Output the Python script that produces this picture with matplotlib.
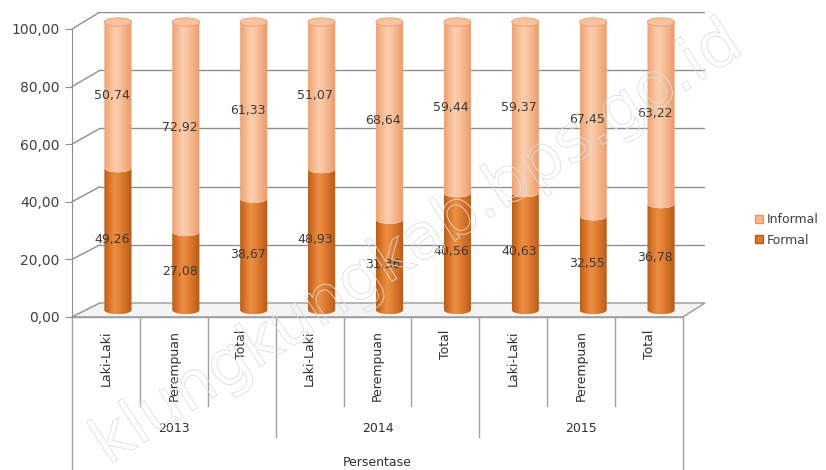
import numpy as np
import matplotlib.pyplot as plt
from matplotlib.patches import Polygon, Ellipse, Patch, ConnectionPatch
from matplotlib.colors import LinearSegmentedColormap
import matplotlib.patheffects as pe

# data
years = ['2013', '2014', '2015']
groups = ['Laki-Laki', 'Perempuan', 'Total']
formal = [49.26, 27.08, 38.67, 48.93, 31.36, 40.56, 40.63, 32.55, 36.78]
informal = [50.74, 72.92, 61.33, 51.07, 68.64, 59.44, 59.37, 67.45, 63.22]
yticks = [0, 20, 40, 60, 80, 100]
xlabel = 'Persentase'

W, H = 826, 470
fig = plt.figure(figsize=(W / 100, H / 100), dpi=100)
plt.rcParams['font.family'] = 'DejaVu Sans'
n = len(formal)


def px_axes(xl, xr, row0, row100, ylim=(0, 100)):
    # axes placed by pixel: x range, row of value 0 and of value 100
    s = (row0 - row100) / 100.0
    rb = row0 - ylim[0] * s
    rt = row0 - ylim[1] * s
    a = fig.add_axes([xl / W, (H - rb) / H, (xr - xl) / W, (rb - rt) / H])
    a.patch.set_visible(False)
    return a


ax_back = px_axes(100, 705, 303, 12)
ax_front = px_axes(72, 683, 317, 29)
ax_bar = px_axes(84, 695, 310, 22, ylim=(-5, 105))

for a in (ax_back, ax_front, ax_bar):
    a.set_xlim(-0.5, n - 0.5)

# back wall gridlines
ax_back.axis('off')
ax_back.set_ylim(0, 100)
for v in yticks[1:]:
    ax_back.axhline(v, color='#8f8f8f', lw=1)

# floor
to_fig = fig.transFigure.inverted()
pts = [ax_front.transData.transform((-0.5, 0)),
       ax_back.transData.transform((-0.5, 0)),
       ax_back.transData.transform((n - 0.5, 0)),
       ax_front.transData.transform((n - 0.5, 0))]
floor = Polygon(to_fig.transform(pts), closed=True, transform=fig.transFigure,
                facecolor='#f3f3f3', edgecolor='#9a9a9a', lw=1, zorder=-1)
fig.patches.append(floor)

# left wall diagonals
for v in yticks:
    con = ConnectionPatch(xyA=(-0.5, v), coordsA=ax_front.transData,
                          xyB=(-0.5, v), coordsB=ax_back.transData,
                          color='#8f8f8f', lw=1, zorder=-1)
    fig.add_artist(con)

# front axis
ax_front.set_ylim(0, 100)
for s in ['top', 'right', 'bottom']:
    ax_front.spines[s].set_visible(False)
ax_front.spines['left'].set_color('#8f8f8f')
ax_front.set_yticks(yticks)
ax_front.set_yticklabels([f'{v:.2f}'.replace('.', ',') for v in yticks],
                         fontsize=10, color='#404040')
ax_front.tick_params(axis='y', length=5, color='#8f8f8f', pad=4)
ax_front.set_xticks([])

# category axis below
tr = ax_front.get_xaxis_transform()
fr = lambda row: -(row - 317) / 288.0
ax_front.plot([-0.5, n - 0.5], [0, 0], transform=tr, color='#9a9a9a', lw=1, clip_on=False)
for i in range(n):
    ax_front.text(i, fr(330), groups[i % 3], transform=tr, rotation=90,
                  ha='center', va='top', fontsize=9, color='#303030')
for i in range(1, n):
    bottom = fr(437) if i % 3 == 0 else fr(406)
    ax_front.plot([i - 0.5, i - 0.5], [0, bottom], transform=tr,
                  color='#a0a0a0', lw=1, clip_on=False)
for b in (-0.5, n - 0.5):
    ax_front.plot([b, b], [0, fr(472)], transform=tr, color='#a0a0a0', lw=1, clip_on=False)
for k, yr in enumerate(years):
    ax_front.text(3 * k + 1, fr(428), yr, transform=tr, ha='center', va='center',
                  fontsize=9, color='#303030')
ax_front.text((n - 1) / 2, fr(462), xlabel, transform=tr, ha='center', va='center',
              fontsize=9, color='#303030')

# cylinders
ax_bar.axis('off')
cm_formal = LinearSegmentedColormap.from_list(
    'f', ['#b85c18', '#dc772a', '#ec9044', '#e27d30', '#cc6c24', '#b45a1a'])
cm_inf = LinearSegmentedColormap.from_list(
    'i', ['#eca274', '#f6b88e', '#fbcfb0', '#f8c09a', '#f1ac80', '#e69c6c'])
w = 0.4
ry = 1.45


def segment(x, y0, y1, cmap, top=False):
    rx = w / 2
    t = np.linspace(np.pi, 2 * np.pi, 40)
    lower = np.c_[x + rx * np.cos(t), y0 + ry * np.sin(t)]
    if top:
        t2 = np.linspace(0, np.pi, 40)
    else:
        t2 = np.linspace(2 * np.pi, np.pi, 40)
    upper = np.c_[x + rx * np.cos(t2), y1 + ry * np.sin(t2)]
    poly = Polygon(np.vstack([lower, upper]), closed=True, facecolor='none',
                   edgecolor='none')
    ax_bar.add_patch(poly)
    grad = np.linspace(0, 1, 256)[None, :]
    im = ax_bar.imshow(grad, cmap=cmap, extent=(x - rx, x + rx, y0 - ry, y1 + ry),
                       aspect='auto', interpolation='bicubic', zorder=2)
    im.set_clip_path(poly)


for i in range(n):
    f = formal[i]
    segment(i, 0, f, cm_formal)
    segment(i, f, f + informal[i], cm_inf, top=True)
    ax_bar.add_patch(Ellipse((i, f + informal[i]), w, 2 * ry, facecolor='#f7c29c',
                             edgecolor='#e8a073', lw=0.6, zorder=3))
    ax_bar.annotate(f'{f:.2f}'.replace('.', ','), (i, f / 2), xytext=(-4.5, 0),
                    textcoords='offset points', ha='center', va='center',
                    fontsize=9, color='#3a3a3a', zorder=5)
    ax_bar.annotate(f'{informal[i]:.2f}'.replace('.', ','), (i, f + informal[i] / 2),
                    xytext=(-4.5, 0), textcoords='offset points', ha='center',
                    va='center', fontsize=9, color='#3a3a3a', zorder=5)

ax_bar.set_xlim(-0.5, n - 0.5)
ax_bar.set_ylim(-5, 105)

# legend
handles = [Patch(facecolor='#f6b88c', edgecolor='#e09a6a'),
           Patch(facecolor='#e07a2a', edgecolor='#b85c18')]
fig.legend(handles, ['Informal', 'Formal'], loc='center left',
           bbox_to_anchor=(744 / W, 1 - 230 / H), frameon=False, fontsize=9,
           handlelength=0.6, handleheight=0.6, handletextpad=0.35, labelspacing=0.6,
           labelcolor='#404040')

# watermark (faint outline)
fig.text(108 / W, 1 - 466 / H, 'klungkungkab.bps.go.id', rotation=33,
         rotation_mode='anchor', ha='left', va='baseline', fontsize=46, color='none',
         path_effects=[pe.Stroke(linewidth=0.6, foreground='#dddddd')], zorder=10)

fig.savefig('out.png', dpi=100)
